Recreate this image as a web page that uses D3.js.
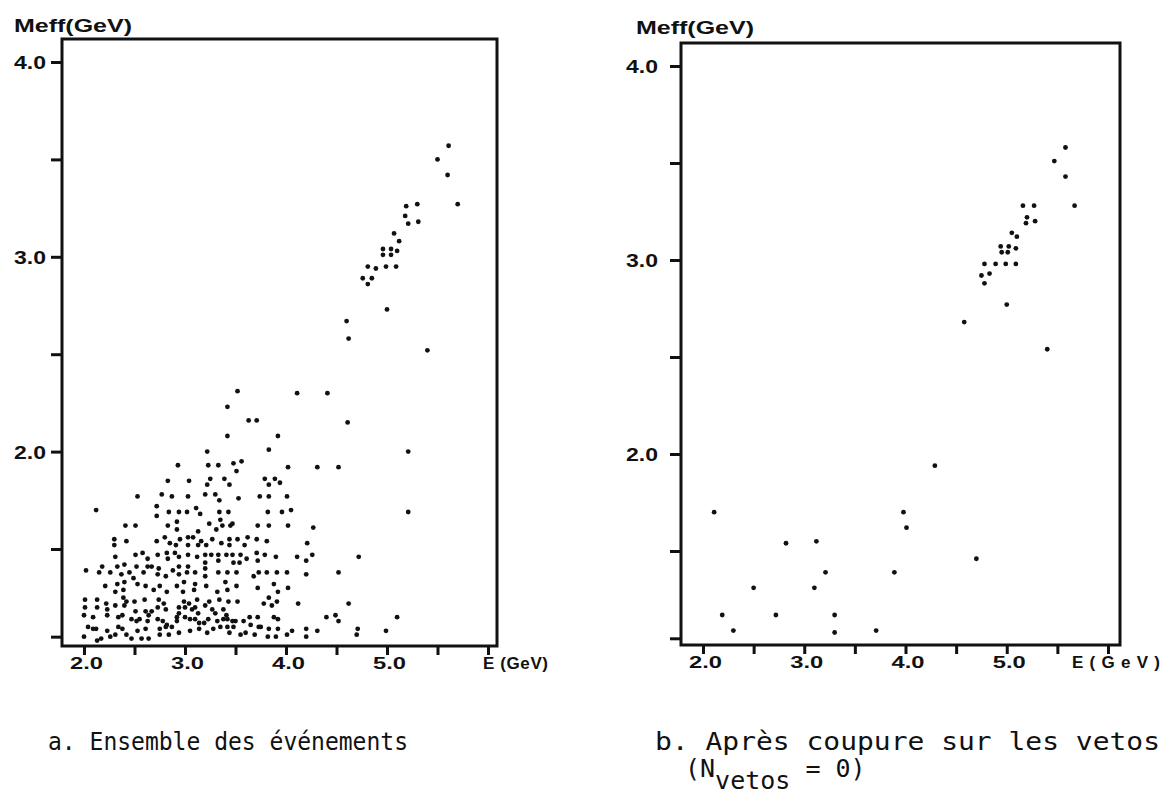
<!DOCTYPE html>
<html><head><meta charset="utf-8">
<script src="https://cdn.jsdelivr.net/npm/d3@7"></script>
<style>
html,body{margin:0;padding:0;background:#fff;}
svg{display:block;}
</style></head><body>
<svg id="chart" width="1168" height="799"></svg>
<script>
// ---------------- data ----------------
const xTickValues = [2.0, 2.5, 3.0, 3.5, 4.0, 4.5, 5.0, 5.5, 6.0];
const xTickLabels = ["2.0", "", "3.0", "", "4.0", "", "5.0", "", ""];
const yTickValues = [1.05, 1.5, 2.0, 2.5, 3.0, 3.5, 4.0];
const yTickLabels = ["", "", "2.0", "", "3.0", "", "4.0"];
const yAxisTitles = ["Meff(GeV)", "Meff(GeV)"];
const xAxisTitles = ["E (GeV)", "E(GeV)"];
const captionA = "a. Ensemble des événements";
const captionB = "b. Après coupure sur les vetos";
const captionB2 = ["(N", "vetos", " = 0)"];

// panel a : all events [E (GeV), Meff (GeV)]
const allEvents = [
[3.52,2.31],[4.11,2.30],[3.42,2.23],[3.63,2.16],[3.71,2.16],[3.42,2.08],[3.92,2.08],[3.83,2.01],[3.22,2.00],
[3.48,1.94],[3.56,1.95],[3.51,1.90],[2.93,1.93],[3.23,1.93],[3.33,1.93],[4.02,1.92],[4.31,1.92],
[3.39,1.86],[2.83,1.85],[3.04,1.85],[3.25,1.86],[3.22,1.83],[3.44,1.83],[3.79,1.86],[3.83,1.83],[3.89,1.86],[3.94,1.84],
[2.53,1.77],[2.77,1.78],[2.87,1.77],[3.03,1.77],[3.20,1.78],[3.30,1.78],[3.34,1.75],[3.53,1.76],[3.74,1.77],[3.83,1.77],[4.01,1.77],
[2.12,1.70],[2.72,1.72],[2.72,1.67],[2.84,1.69],[2.94,1.69],[3.02,1.69],[3.11,1.71],[3.15,1.68],[3.34,1.69],[3.43,1.69],[3.82,1.69],[3.96,1.69],[4.05,1.70],
[2.41,1.62],[2.51,1.62],[2.83,1.62],[2.92,1.64],[2.92,1.60],[3.24,1.63],[3.31,1.60],[3.35,1.65],[3.37,1.62],[3.45,1.62],[3.47,1.63],[3.72,1.62],[3.83,1.62],[4.02,1.62],[4.27,1.61],
[2.30,1.55],[2.30,1.52],[2.42,1.54],[2.72,1.54],[2.80,1.56],[2.85,1.53],[2.91,1.52],[2.95,1.55],[3.03,1.56],[3.03,1.52],[3.08,1.56],[3.13,1.59],[3.13,1.52],[3.16,1.54],[3.21,1.52],[3.27,1.55],[3.36,1.53],[3.44,1.55],[3.44,1.52],[3.52,1.55],[3.59,1.52],[3.62,1.56],[3.71,1.55],[3.81,1.54],[4.21,1.53],
[2.31,1.46],[2.51,1.47],[2.58,1.48],[2.63,1.45],[2.73,1.47],[2.82,1.48],[2.83,1.45],[2.90,1.48],[2.94,1.46],[3.03,1.47],[3.12,1.46],[3.20,1.47],[3.20,1.43],[3.26,1.47],[3.33,1.47],[3.33,1.44],[3.41,1.47],[3.47,1.47],[3.48,1.43],[3.54,1.43],[3.55,1.47],[3.61,1.45],[3.71,1.48],[3.72,1.44],[3.79,1.47],[3.90,1.46],[4.11,1.46],[4.20,1.44],[4.26,1.47],
[2.02,1.39],[2.15,1.38],[2.18,1.41],[2.26,1.38],[2.33,1.41],[2.37,1.37],[2.40,1.42],[2.45,1.38],[2.49,1.35],[2.52,1.41],[2.59,1.38],[2.63,1.41],[2.67,1.41],[2.73,1.37],[2.74,1.40],[2.81,1.36],[2.88,1.39],[2.94,1.41],[2.94,1.37],[3.02,1.38],[3.03,1.41],[3.10,1.38],[3.20,1.40],[3.20,1.36],[3.33,1.38],[3.42,1.38],[3.51,1.38],[3.68,1.36],[3.73,1.38],[3.81,1.38],[3.91,1.38],[4.01,1.38],[4.20,1.37],
[2.21,1.31],[2.31,1.28],[2.33,1.32],[2.39,1.29],[2.40,1.33],[2.53,1.32],[2.61,1.31],[2.69,1.29],[2.75,1.31],[2.82,1.28],[2.92,1.31],[2.98,1.28],[2.99,1.33],[3.09,1.29],[3.10,1.32],[3.21,1.31],[3.32,1.28],[3.40,1.33],[3.42,1.29],[3.51,1.31],[3.72,1.30],[3.88,1.32],[3.92,1.28],[4.02,1.30],
[2.01,1.24],[2.01,1.20],[2.13,1.24],[2.13,1.20],[2.22,1.22],[2.23,1.19],[2.31,1.21],[2.39,1.25],[2.40,1.21],[2.42,1.23],[2.50,1.23],[2.51,1.18],[2.60,1.24],[2.61,1.18],[2.67,1.18],[2.73,1.20],[2.74,1.24],[2.79,1.22],[2.81,1.19],[2.94,1.20],[2.94,1.17],[2.99,1.23],[3.00,1.20],[3.04,1.22],[3.07,1.19],[3.10,1.20],[3.12,1.24],[3.13,1.17],[3.20,1.21],[3.24,1.23],[3.27,1.19],[3.34,1.24],[3.38,1.19],[3.43,1.23],[3.41,1.16],[3.52,1.23],[3.64,1.15],[3.78,1.22],[3.83,1.25],[3.86,1.21],[3.91,1.23],[4.12,1.22],
[2.00,1.16],[2.09,1.15],[2.23,1.16],[2.34,1.15],[2.38,1.16],[2.47,1.14],[2.52,1.13],[2.55,1.14],[2.63,1.13],[2.64,1.16],[2.73,1.14],[2.78,1.13],[2.82,1.11],[2.87,1.10],[2.92,1.13],[2.92,1.15],[3.00,1.15],[3.05,1.14],[3.10,1.14],[3.14,1.12],[3.19,1.12],[3.23,1.14],[3.30,1.17],[3.32,1.13],[3.38,1.14],[3.42,1.14],[3.47,1.13],[3.50,1.13],[3.58,1.13],[3.65,1.11],[3.72,1.15],[3.73,1.10],[3.88,1.15],[3.92,1.14],
[2.00,1.05],[2.04,1.10],[2.09,1.09],[2.12,1.09],[2.13,1.03],[2.17,1.04],[2.23,1.08],[2.26,1.05],[2.31,1.06],[2.34,1.10],[2.38,1.09],[2.42,1.06],[2.47,1.04],[2.53,1.08],[2.57,1.04],[2.61,1.09],[2.64,1.04],[2.75,1.09],[2.75,1.06],[2.81,1.10],[2.84,1.06],[2.94,1.07],[3.05,1.08],[3.14,1.09],[3.22,1.07],[3.28,1.09],[3.35,1.10],[3.42,1.10],[3.44,1.07],[3.48,1.10],[3.55,1.06],[3.60,1.07],[3.69,1.06],[3.75,1.10],[3.82,1.05],[3.83,1.09],[3.90,1.05],[3.92,1.09],[4.01,1.06],[4.06,1.08],[4.20,1.05],[4.20,1.09],[4.31,1.08],
[4.41,2.30],[4.61,2.15],[5.21,2.00],[4.52,1.92],[5.21,1.69],[4.72,1.46],[4.52,1.38],[4.62,1.22],[4.40,1.15],[4.49,1.16],[4.52,1.13],[5.10,1.15],[4.71,1.09],[4.70,1.06],[4.99,1.08],
[5.61,3.57],[5.50,3.50],[5.60,3.42],[5.70,3.27],[5.19,3.26],[5.30,3.27],[5.18,3.21],[5.21,3.17],[5.31,3.18],[5.07,3.12],[5.12,3.08],[4.96,3.04],[5.04,3.04],[4.96,3.01],[5.04,3.01],[5.10,3.03],[4.81,2.95],[4.89,2.94],[4.99,2.95],[5.09,2.95],[4.76,2.89],[4.85,2.89],[4.81,2.86],[5.00,2.73],[4.60,2.67],[4.62,2.58],[5.40,2.52]
];

// panel b : events after veto cut (N_vetos = 0)
const vetoEvents = [
[5.58,3.58],[5.47,3.51],[5.58,3.43],[5.67,3.28],[5.16,3.28],[5.27,3.28],[5.20,3.22],[5.19,3.19],[5.28,3.20],[5.05,3.14],[5.10,3.12],
[4.94,3.07],[5.02,3.07],[4.95,3.04],[5.01,3.04],[5.09,3.06],[4.78,2.98],[4.89,2.98],[4.99,2.98],[5.09,2.98],[4.75,2.92],[4.83,2.93],[4.78,2.88],[5.00,2.77],[4.58,2.68],[5.40,2.54],
[2.11,1.70],[4.29,1.94],[3.98,1.70],[4.01,1.62],[4.70,1.46],[2.82,1.54],[3.12,1.55],[3.21,1.39],[2.50,1.31],[3.10,1.31],[3.89,1.39],
[2.19,1.17],[2.30,1.09],[2.72,1.17],[3.30,1.17],[3.30,1.08],[3.71,1.09]
];

// ---------------- layout ----------------
const panels = [
  { data: allEvents, frame: {l: 62, r: 497, t: 39, b: 646}, xr: [84, 488], yr: [549, 62],
    yLabelX: 46, yTitle: {x: 14, y: 32, w: 118}, xTitle: {x: 483, y: 669, w: 65, text: xAxisTitles[0]} },
  { data: vetoEvents, frame: {l: 681, r: 1120, t: 43, b: 645}, xr: [703, 1108], yr: [551, 66],
    yLabelX: 658, yTitle: {x: 636, y: 34, w: 118}, xTitle: {x: 1072, y: 668, w: 88, text: xAxisTitles[1]} }
];

const svg = d3.select("#chart");
svg.append("rect").attr("width", 1168).attr("height", 799).attr("fill", "#fff");

const boldFont = "'Liberation Sans', Arial, sans-serif";

panels.forEach((p, i) => {
  const x = d3.scaleLinear().domain([2.0, 6.0]).range(p.xr);
  const y = d3.scaleLinear().domain([1.5, 4.0]).range(p.yr);
  const g = svg.append("g");
  const f = p.frame;

  // frame
  g.append("rect").attr("x", f.l).attr("y", f.t).attr("width", f.r - f.l).attr("height", f.b - f.t)
    .attr("fill", "none").attr("stroke", "#111").attr("stroke-width", 3);

  // x axis ticks (downwards)
  const xAxis = d3.axisBottom(x).tickValues(xTickValues).tickSize(9).tickSizeOuter(0)
    .tickFormat((d, k) => xTickLabels[k]);
  const xg = g.append("g").attr("transform", `translate(0,${f.b})`).call(xAxis);
  xg.select(".domain").remove();
  xg.selectAll(".tick line").attr("stroke", "#111").attr("stroke-width", 3);
  xg.selectAll(".tick text").attr("fill", "#111").attr("font-family", boldFont).attr("font-weight", "bold")
    .attr("font-size", 17).attr("dy", null).attr("y", 23).attr("dx", 2);
  xg.selectAll(".tick text").filter(function(){ return this.textContent !== ""; })
    .attr("textLength", 33).attr("lengthAdjust", "spacingAndGlyphs");

  // y axis ticks (leftwards)
  const yAxis = d3.axisLeft(y).tickValues(yTickValues).tickSize(11).tickSizeOuter(0)
    .tickFormat((d, k) => yTickLabels[k]);
  const yg = g.append("g").attr("transform", `translate(${f.l},0)`).call(yAxis);
  yg.select(".domain").remove();
  yg.selectAll(".tick line").attr("stroke", "#111").attr("stroke-width", 3);
  yg.selectAll(".tick text").attr("fill", "#111").attr("font-family", boldFont).attr("font-weight", "bold")
    .attr("font-size", 18).attr("x", p.yLabelX - f.l).attr("dy", "0.36em");
  yg.selectAll(".tick text").filter(function(){ return this.textContent !== ""; })
    .attr("textLength", 32).attr("lengthAdjust", "spacingAndGlyphs");

  // titles
  g.append("text").attr("x", p.yTitle.x).attr("y", p.yTitle.y).text(yAxisTitles[i])
    .attr("font-family", boldFont).attr("font-weight", "bold").attr("font-size", 19).attr("fill", "#111")
    .attr("textLength", p.yTitle.w).attr("lengthAdjust", "spacingAndGlyphs");
  g.append("text").attr("x", p.xTitle.x).attr("y", p.xTitle.y).text(p.xTitle.text)
    .attr("font-family", boldFont).attr("font-weight", "bold").attr("font-size", 17).attr("fill", "#111")
    .attr("textLength", p.xTitle.w).attr("lengthAdjust", "spacing");

  // points
  g.append("g").selectAll("circle").data(p.data).join("circle")
    .attr("cx", d => x(d[0])).attr("cy", d => y(d[1])).attr("r", 2.4).attr("fill", "#111");
});

// captions
const capFont = "'DejaVu Sans Mono', monospace";
svg.append("text").attr("x", 48).attr("y", 750).text(captionA)
  .attr("font-family", capFont).attr("font-size", 25).attr("fill", "#111")
  .attr("textLength", 360).attr("lengthAdjust", "spacingAndGlyphs");
svg.append("text").attr("x", 655).attr("y", 750).text(captionB)
  .attr("font-family", capFont).attr("font-size", 25).attr("fill", "#111")
  .attr("textLength", 505).attr("lengthAdjust", "spacingAndGlyphs");
const t2 = svg.append("text").attr("x", 685).attr("y", 777)
  .attr("font-family", capFont).attr("font-size", 25).attr("fill", "#111");
t2.append("tspan").text(captionB2[0]);
t2.append("tspan").attr("dy", 12).text(captionB2[1]);
t2.append("tspan").attr("dy", -12).text(captionB2[2]);
</script>
</body></html>
